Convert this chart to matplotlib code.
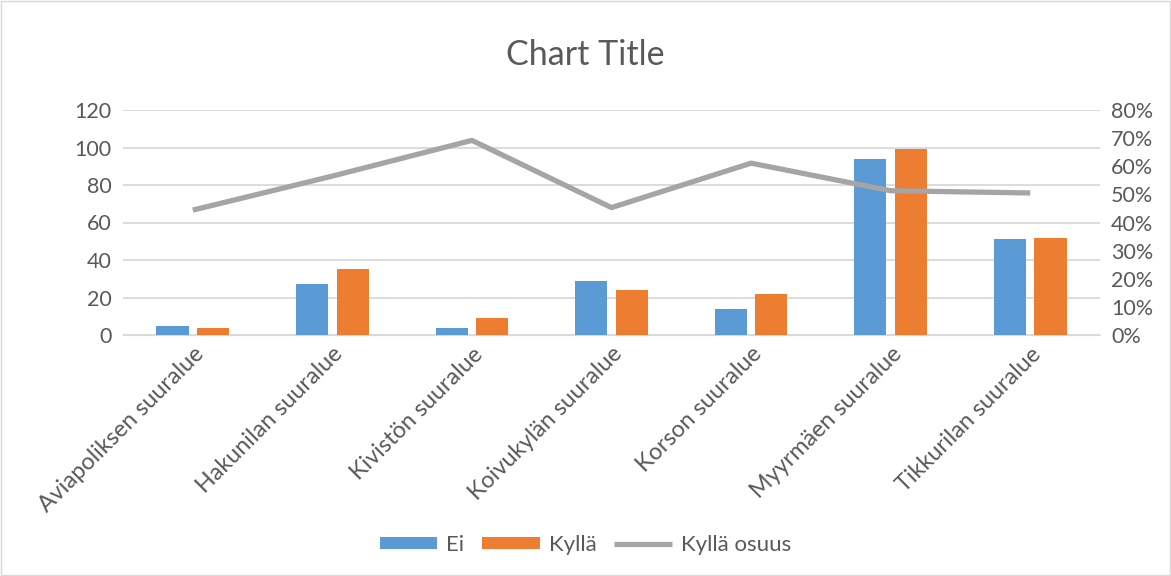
import numpy as np
import matplotlib.pyplot as plt
from matplotlib.ticker import PercentFormatter

plt.rcParams['font.family'] = ['Lato', 'DejaVu Sans']

areas = ["Aviapoliksen suuralue", "Hakunilan suuralue", "Kivistön suuralue",
         "Koivukylän suuralue", "Korson suuralue", "Myyrmäen suuralue",
         "Tikkurilan suuralue"]
ei = [5, 27, 4, 29, 14, 94, 51]
kylla = [4, 35, 9, 24, 22, 99, 52]
osuus = [0.444, 0.565, 0.692, 0.453, 0.611, 0.513, 0.505]

txt = "#595959"
fig = plt.figure(figsize=(11.71, 5.76), dpi=100)
fig.patches.append(plt.Rectangle((0.0008, 0.001), 0.998, 0.997, transform=fig.transFigure,
                                 fill=False, ec="#d9d9d9", lw=1))
ax = fig.add_axes([123/1171, 1-335/576, 977/1171, 225/576])
ax2 = ax.twinx()

x = np.arange(len(areas))
w = 0.23
b1 = ax.bar(x - 0.145, ei, w, color="#5b9bd5", label="Ei", zorder=3)
b2 = ax.bar(x + 0.145, kylla, w, color="#ed7d31", label="Kyllä", zorder=3)
l1, = ax2.plot(x, osuus, color="#a5a5a5", lw=3.8, label="Kyllä osuus", solid_capstyle="butt")

ax.set_xlim(-0.5, len(areas) - 0.5)
ax.set_ylim(0, 120)
ax.set_yticks(range(0, 121, 20))
ax2.set_ylim(0, 0.8)
ax2.set_yticks(np.arange(0, 0.81, 0.1))
ax2.yaxis.set_major_formatter(PercentFormatter(1.0, decimals=0))
ax.grid(axis="y", color="#d9d9d9", lw=1.3, zorder=0)
ax.set_axisbelow(True)
for a in (ax, ax2):
    for s in a.spines.values():
        s.set_visible(False)
    a.tick_params(length=0, labelsize=15.5, colors=txt, pad=8)
ax.spines["bottom"].set_visible(True)
ax.spines["bottom"].set_color("#d9d9d9")
ax.set_xticks(x)
ax.set_xticklabels(areas, rotation=45, ha="right", rotation_mode="anchor", fontsize=16.8)
ax.tick_params(axis="x", pad=6)

fig.text(0.5, 1-55/576, "Chart Title", ha="center", va="center", fontsize=24.5, color=txt)
fig.legend(handles=[b1, b2, l1], loc="center", bbox_to_anchor=(0.5, 1-545/576), ncol=3,
           frameon=False, fontsize=16, labelcolor=txt, handlelength=2.6, handleheight=0.45,
           columnspacing=0.8, handletextpad=0.4)

fig.savefig("out.png", dpi=100)
